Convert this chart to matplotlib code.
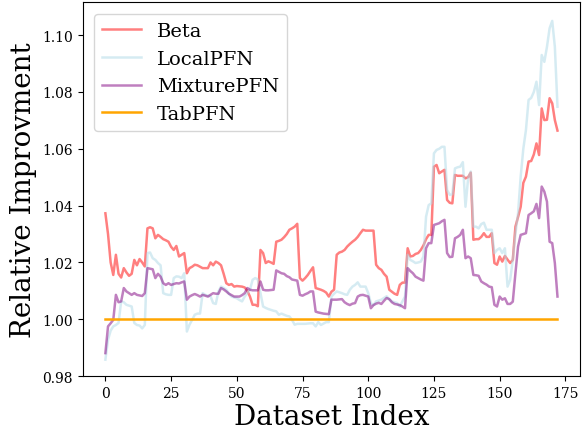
import matplotlib
matplotlib.use("Agg")
import matplotlib.pyplot as plt

# Relative improvement over TabPFN per dataset
beta = [
    1.0373, 1.0300, 1.0200, 1.0156, 1.0227, 1.0160, 1.0147, 1.0180, 1.0165, 1.0153,
    1.0160, 1.0209, 1.0190, 1.0212, 1.0200, 1.0186, 1.0320, 1.0324, 1.0320, 1.0285,
    1.0297, 1.0290, 1.0282, 1.0278, 1.0273, 1.0255, 1.0244, 1.0258, 1.0221, 1.0227,
    1.0233, 1.0162, 1.0180, 1.0185, 1.0192, 1.0190, 1.0185, 1.0180, 1.0180, 1.0180,
    1.0200, 1.0190, 1.0203, 1.0198, 1.0190, 1.0160, 1.0127, 1.0121, 1.0124, 1.0115,
    1.0117, 1.0116, 1.0115, 1.0112, 1.0100, 1.0080, 1.0051, 1.0051, 1.0046, 1.0244,
    1.0233, 1.0198, 1.0204, 1.0200, 1.0195, 1.0273, 1.0276, 1.0280, 1.0289, 1.0300,
    1.0315, 1.0320, 1.0326, 1.0336, 1.0145, 1.0136, 1.0145, 1.0156, 1.0170, 1.0183,
    1.0110, 1.0107, 1.0104, 1.0100, 1.0094, 1.0080, 1.0097, 1.0104, 1.0227, 1.0235,
    1.0238, 1.0244, 1.0256, 1.0265, 1.0273, 1.0280, 1.0290, 1.0303, 1.0315, 1.0312,
    1.0312, 1.0312, 1.0312, 1.0192, 1.0180, 1.0174, 1.0160, 1.0150, 1.0104, 1.0097,
    1.0090, 1.0086, 1.0121, 1.0129, 1.0129, 1.0250, 1.0221, 1.0223, 1.0230, 1.0233,
    1.0244, 1.0260, 1.0282, 1.0297, 1.0297, 1.0537, 1.0543, 1.0514, 1.0520, 1.0526,
    1.0420, 1.0410, 1.0408, 1.0508, 1.0505, 1.0505, 1.0505, 1.0496, 1.0500, 1.0516,
    1.0280, 1.0282, 1.0282, 1.0290, 1.0303, 1.0290, 1.0290, 1.0303, 1.0198, 1.0192,
    1.0221, 1.0203, 1.0223, 1.0210, 1.0198, 1.0209, 1.0326, 1.0360, 1.0396, 1.0480,
    1.0502, 1.0555, 1.0557, 1.0580, 1.0619, 1.0578, 1.0742, 1.0701, 1.0702, 1.0778,
    1.0760, 1.0701, 1.0664,
]
local_pfn = [
    0.9858, 0.9928, 0.9960, 0.9975, 0.9980, 0.9987, 1.0063, 1.0060, 1.0051, 1.0048,
    1.0045, 0.9987, 0.9980, 0.9978, 0.9968, 0.9980, 1.0233, 1.0235, 1.0215, 1.0209,
    1.0198, 1.0190, 1.0092, 1.0088, 1.0086, 1.0086, 1.0145, 1.0151, 1.0150, 1.0145,
    1.0162, 0.9957, 0.9981, 0.9998, 1.0016, 1.0020, 1.0020, 1.0092, 1.0086, 1.0083,
    1.0081, 1.0057, 1.0054, 1.0098, 1.0115, 1.0110, 1.0104, 1.0090, 1.0080, 1.0077,
    1.0074, 1.0068, 1.0063, 1.0080, 1.0092, 1.0104, 1.0139, 1.0145, 1.0140, 1.0092,
    1.0045, 1.0040, 1.0036, 1.0033, 1.0030, 1.0028, 1.0016, 1.0020, 1.0016, 1.0012,
    1.0010, 0.9998, 0.9981, 0.9984, 0.9984, 0.9984, 0.9984, 0.9985, 0.9986, 0.9986,
    0.9975, 0.9990, 0.9980, 0.9985, 0.9990, 0.9990, 1.0080, 1.0090, 1.0098, 1.0095,
    1.0092, 1.0088, 1.0086, 1.0104, 1.0115, 1.0121, 1.0130, 1.0115, 1.0115, 1.0115,
    1.0092, 1.0057, 1.0050, 1.0063, 1.0066, 1.0069, 1.0075, 1.0081, 1.0070, 1.0063,
    1.0060, 1.0057, 1.0045, 1.0063, 1.0080, 1.0227, 1.0209, 1.0204, 1.0198, 1.0200,
    1.0203, 1.0221, 1.0361, 1.0402, 1.0408, 1.0584, 1.0596, 1.0600, 1.0607, 1.0607,
    1.0455, 1.0438, 1.0440, 1.0531, 1.0535, 1.0537, 1.0553, 1.0396, 1.0496, 1.0520,
    1.0326, 1.0326, 1.0320, 1.0335, 1.0340, 1.0315, 1.0315, 1.0315, 1.0233, 1.0244,
    1.0250, 1.0233, 1.0250, 1.0115, 1.0139, 1.0209, 1.0300, 1.0373, 1.0502, 1.0600,
    1.0666, 1.0772, 1.0779, 1.0800, 1.0836, 1.0754, 1.0930, 1.0906, 1.0959, 1.1024,
    1.1050, 1.0959, 1.0748,
]
mixture_pfn = [
    0.9881, 0.9975, 0.9986, 0.9998, 1.0086, 1.0060, 1.0063, 1.0110, 1.0098, 1.0092,
    1.0086, 1.0092, 1.0086, 1.0084, 1.0082, 1.0092, 1.0180, 1.0178, 1.0176, 1.0145,
    1.0160, 1.0150, 1.0127, 1.0121, 1.0127, 1.0121, 1.0124, 1.0127, 1.0126, 1.0130,
    1.0133, 1.0069, 1.0080, 1.0085, 1.0089, 1.0085, 1.0080, 1.0086, 1.0083, 1.0080,
    1.0086, 1.0092, 1.0090, 1.0090, 1.0110, 1.0105, 1.0098, 1.0090, 1.0085, 1.0080,
    1.0080, 1.0080, 1.0085, 1.0092, 1.0110, 1.0104, 1.0102, 1.0102, 1.0102, 1.0133,
    1.0104, 1.0102, 1.0102, 1.0103, 1.0104, 1.0172, 1.0167, 1.0162, 1.0160, 1.0152,
    1.0148, 1.0140, 1.0138, 1.0136, 1.0086, 1.0083, 1.0088, 1.0092, 1.0098, 1.0098,
    1.0027, 1.0024, 1.0022, 1.0020, 1.0019, 1.0018, 1.0069, 1.0069, 1.0069, 1.0070,
    1.0071, 1.0060, 1.0054, 1.0050, 1.0055, 1.0057, 1.0080, 1.0085, 1.0086, 1.0083,
    1.0080, 1.0039, 1.0050, 1.0055, 1.0058, 1.0054, 1.0065, 1.0075, 1.0071, 1.0060,
    1.0054, 1.0052, 1.0050, 1.0045, 1.0039, 1.0180, 1.0170, 1.0162, 1.0150, 1.0145,
    1.0140, 1.0136, 1.0250, 1.0268, 1.0268, 1.0332, 1.0335, 1.0338, 1.0345, 1.0350,
    1.0233, 1.0219, 1.0220, 1.0285, 1.0290, 1.0297, 1.0315, 1.0215, 1.0221, 1.0215,
    1.0156, 1.0155, 1.0153, 1.0133, 1.0127, 1.0122, 1.0115, 1.0113, 1.0051, 1.0045,
    1.0080, 1.0069, 1.0074, 1.0054, 1.0054, 1.0062, 1.0162, 1.0256, 1.0297, 1.0300,
    1.0303, 1.0367, 1.0373, 1.0380, 1.0406, 1.0356, 1.0467, 1.0449, 1.0414, 1.0273,
    1.0268, 1.0198, 1.0080,
]
tab_pfn = [1.0] * len(beta)  # baseline
dataset_index = list(range(len(beta)))

fig, ax = plt.subplots(figsize=(5.83, 4.31), dpi=100)
fig.subplots_adjust(left=0.142, right=0.995, top=0.992, bottom=0.125)

ax.plot(dataset_index, beta, color="red", alpha=0.5, linewidth=1.8, label="Beta")
ax.plot(dataset_index, local_pfn, color="lightblue", alpha=0.5, linewidth=1.8, label="LocalPFN")
ax.plot(dataset_index, mixture_pfn, color="purple", alpha=0.5, linewidth=1.8, label="MixturePFN")
ax.plot(dataset_index, tab_pfn, color="orange", linewidth=1.8, label="TabPFN")

ax.set_ylim(0.98, 1.1115)
ax.set_yticks([0.98, 1.00, 1.02, 1.04, 1.06, 1.08, 1.10])
ax.set_xticks([0, 25, 50, 75, 100, 125, 150, 175])
ax.tick_params(labelsize=10)
for lbl in ax.get_xticklabels() + ax.get_yticklabels():
    lbl.set_fontfamily("DejaVu Serif")

ax.set_xlabel("Dataset Index", fontsize=20, family="DejaVu Serif", labelpad=2)
ax.set_ylabel("Relative Improvment", fontsize=20, family="DejaVu Serif", labelpad=4)
ax.legend(loc="upper left", prop={"family": "DejaVu Serif", "size": 14},
          handlelength=2.0, borderaxespad=0.6)

fig.savefig("out.png", dpi=100)
